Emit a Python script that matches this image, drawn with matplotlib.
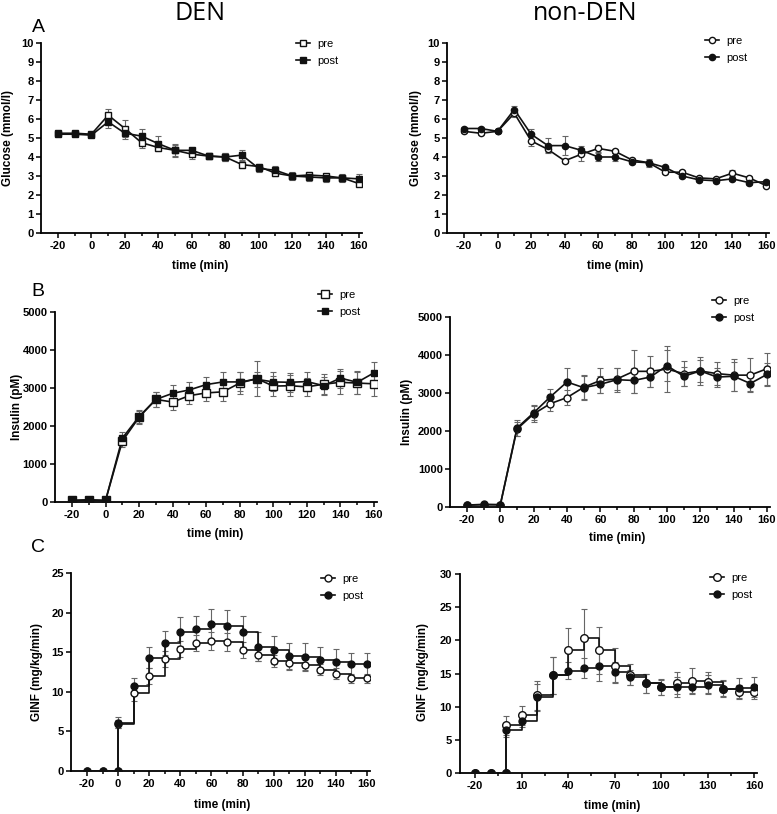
import numpy as np
import matplotlib
matplotlib.use('Agg')
import matplotlib.pyplot as plt
from matplotlib.lines import Line2D

plt.rcParams['font.family'] = ['Liberation Sans', 'DejaVu Sans']
plt.rcParams['axes.unicode_minus'] = False

# time points
time = [-20, -10, 0, 10, 20, 30, 40, 50, 60, 70, 80, 90, 100, 110, 120, 130, 140, 150, 160]
time_ginf = [-20, -10, 0, 0, 10, 20, 30, 40, 50, 60, 70, 80, 90, 100, 110, 120, 130, 140, 150, 160]

# Glucose (mmol/l)
glu_den_pre = [5.25, 5.25, 5.2, 6.2, 5.5, 4.75, 4.5, 4.35, 4.15, 4.05, 4.0, 3.6, 3.5, 3.15, 3.0, 3.05, 3.0, 2.9, 2.6]
glu_den_post = [5.2, 5.2, 5.15, 5.85, 5.25, 5.1, 4.7, 4.35, 4.35, 4.05, 4.0, 4.1, 3.4, 3.3, 3.0, 2.95, 2.9, 2.9, 2.85]
glu_den_pre_err = [0.1, 0.1, 0.1, 0.35, 0.45, 0.3, 0.15, 0.35, 0.25, 0.1, 0.2, 0.2, 0.15, 0.15, 0.15, 0.15, 0.1, 0.15, 0.1]
glu_den_post_err = [0.1, 0.1, 0.1, 0.3, 0.3, 0.37, 0.4, 0.3, 0.15, 0.1, 0.2, 0.25, 0.2, 0.25, 0.2, 0.2, 0.2, 0.2, 0.25]

glu_non_pre = [5.35, 5.25, 5.35, 6.3, 4.85, 4.4, 3.8, 4.15, 4.45, 4.3, 3.85, 3.7, 3.2, 3.2, 2.9, 2.85, 3.15, 2.9, 2.5]
glu_non_post = [5.5, 5.5, 5.35, 6.5, 5.2, 4.6, 4.6, 4.35, 4.0, 4.0, 3.75, 3.7, 3.45, 3.0, 2.8, 2.75, 2.85, 2.65, 2.7]
glu_non_pre_err = [0.1, 0.1, 0.1, 0.2, 0.25, 0.15, 0.1, 0.35, 0.2, 0.1, 0.1, 0.2, 0.1, 0.1, 0.1, 0.1, 0.15, 0.1, 0.1]
glu_non_post_err = [0.1, 0.1, 0.1, 0.2, 0.3, 0.4, 0.5, 0.25, 0.2, 0.2, 0.1, 0.15, 0.1, 0.1, 0.1, 0.1, 0.1, 0.1, 0.1]

# Insulin (pM)
ins_den_pre = [40, 50, 40, 1600, 2230, 2700, 2630, 2800, 2870, 2900, 3130, 3250, 3050, 3060, 3030, 3100, 3150, 3130, 3110]
ins_den_post = [40, 60, 40, 1680, 2250, 2700, 2860, 2950, 3090, 3160, 3160, 3230, 3160, 3150, 3170, 3060, 3260, 3150, 3400]
ins_den_pre_err = [20, 20, 20, 150, 170, 200, 200, 220, 200, 230, 300, 450, 270, 270, 230, 280, 300, 300, 320]
ins_den_post_err = [20, 20, 20, 160, 170, 200, 220, 200, 200, 250, 250, 200, 250, 250, 250, 230, 250, 300, 280]

ins_non_pre = [50, 60, 60, 2050, 2450, 2720, 2880, 3150, 3330, 3370, 3570, 3570, 3630, 3510, 3580, 3510, 3470, 3470, 3640]
ins_non_post = [50, 70, 60, 2080, 2480, 2900, 3290, 3140, 3230, 3350, 3330, 3420, 3720, 3440, 3580, 3420, 3440, 3250, 3490]
ins_non_pre_err = [20, 20, 20, 180, 200, 200, 200, 300, 320, 300, 570, 400, 600, 330, 370, 300, 420, 450, 420]
ins_non_post_err = [20, 20, 20, 200, 200, 200, 370, 330, 220, 320, 320, 250, 400, 250, 300, 250, 380, 200, 300]

# GINF (mg/kg/min)
ginf_den_pre = [0, 0, 0, 5.9, 9.8, 12.0, 14.1, 15.4, 16.2, 16.4, 16.3, 15.3, 14.7, 13.9, 13.6, 13.4, 12.8, 12.3, 11.7, 11.7]
ginf_den_post = [0, 0, 0, 6.1, 10.7, 14.3, 16.2, 17.6, 17.9, 18.6, 18.3, 17.6, 15.7, 15.3, 14.5, 14.4, 14.0, 13.8, 13.5, 13.5]
ginf_den_pre_err = [0, 0, 0, 0.5, 0.9, 1.0, 1.0, 1.0, 1.0, 1.1, 1.1, 1.0, 0.8, 0.8, 0.8, 0.8, 0.7, 0.7, 0.6, 0.6]
ginf_den_post_err = [0, 0, 0, 0.7, 1.0, 1.3, 1.5, 1.8, 1.7, 1.9, 2.0, 2.0, 1.8, 1.8, 1.6, 1.7, 1.6, 1.6, 1.4, 1.4]

ginf_non_pre = [0, 0, 0, 7.2, 8.7, 11.7, 14.7, 18.6, 20.4, 18.5, 16.2, 14.8, 13.5, 12.9, 13.6, 13.9, 13.7, 12.7, 12.2, 12.2]
ginf_non_post = [0, 0, 0, 6.5, 7.9, 11.4, 14.7, 15.4, 15.8, 16.1, 15.2, 14.4, 13.5, 12.9, 12.9, 13.0, 13.3, 12.7, 12.8, 12.9]
ginf_non_pre_err = [0, 0, 0, 1.4, 1.4, 2.2, 2.8, 3.2, 4.3, 3.5, 2.7, 1.6, 1.5, 1.1, 1.7, 2.0, 1.6, 1.3, 1.0, 1.0]
ginf_non_post_err = [0, 0, 0, 1.0, 1.0, 2.0, 2.8, 1.3, 1.5, 2.2, 1.5, 1.2, 1.5, 1.2, 1.5, 1.0, 1.4, 1.1, 1.5, 1.5]

W, H = 777, 814
fig = plt.figure(figsize=(W / 100, H / 100), dpi=100)


def make_ax(x_m20, x_160, y_top, y_bot):
    # axes rect from pixel positions of x=-20, x=160 and y-range ends
    s = (x_160 - x_m20) / 180.0
    left = x_m20 - 10 * s
    width = 192 * s
    ax = fig.add_axes([left / W, 1 - y_bot / H, width / W, (y_bot - y_top) / H])
    ax.set_xlim(-30, 162)
    for sp in ['top', 'right']:
        ax.spines[sp].set_visible(False)
    for sp in ['left', 'bottom']:
        ax.spines[sp].set_linewidth(1.3)
    ax.tick_params(width=1.1, length=3.5, labelsize=8, pad=2)
    ax.tick_params(which='minor', width=1.1, length=2.5)
    return ax


def style_ticks(ax):
    for lab in ax.get_xticklabels() + ax.get_yticklabels():
        lab.set_fontweight('bold')


def draw(ax, x, y, e, marker, filled, ms, steps=False):
    ax.errorbar(x, y, yerr=e, fmt='none', ecolor='#666666', elinewidth=0.8,
                capsize=2.3, capthick=0.8, zorder=2)
    ax.plot(x, y, color='#111111', lw=1.2, drawstyle='steps-post' if steps else 'default', zorder=3)
    ax.plot(x, y, linestyle='none', marker=marker, ms=ms, mec='#111111', mew=1.0,
            mfc='#111111' if filled else 'white', zorder=4)


def legend(x_px, y_px, marker, ms_pre, ms_post):
    h1 = Line2D([], [], color='#111111', lw=1.2, marker=marker, ms=ms_pre, mfc='white', mec='#111111')
    h2 = Line2D([], [], color='#111111', lw=1.2, marker=marker, ms=ms_post, mfc='#111111', mec='#111111')
    fig.legend([h1, h2], ['pre', 'post'], loc='upper left', bbox_to_anchor=(x_px / W, 1 - y_px / H),
               frameon=False, handlelength=1.3, handletextpad=0.6, labelspacing=0.6,
               prop={'size': 8}, borderaxespad=0, borderpad=0)


def xlabel(y_px, x_px):
    fig.text(x_px / W, 1 - y_px / H, 'time (min)', ha='center', va='center', fontsize=8.5, fontweight='bold')


def ylabel(text, x_px, y_px):
    fig.text(x_px / W, 1 - y_px / H, text, ha='center', va='center', rotation=90, fontsize=8.5, fontweight='bold')


def set_x(ax, major_step, minor_start):
    ax.set_xticks(range(-20, 161, major_step))
    ax.set_xticks(range(minor_start, 161, major_step), minor=True)


# ---- A: glucose ----
axA1 = make_ax(58, 359, 43, 233)
draw(axA1, time, glu_den_pre, glu_den_pre_err, 's', False, 4.5)
draw(axA1, time, glu_den_post, glu_den_post_err, 's', True, 4.2)
axA1.set_ylim(0, 10)
axA1.set_yticks(range(0, 11))
set_x(axA1, 20, -10)
style_ticks(axA1)
legend(296, 39, 's', 4.5, 4.2)
xlabel(266, 200)
ylabel('Glucose (mmol/l)', 8, 138)

axA2 = make_ax(464, 766, 43, 233)
draw(axA2, time, glu_non_pre, glu_non_pre_err, 'o', False, 4.5)
draw(axA2, time, glu_non_post, glu_non_post_err, 'o', True, 4.5)
axA2.set_ylim(0, 10)
axA2.set_yticks(range(0, 11))
set_x(axA2, 20, -10)
style_ticks(axA2)
legend(705, 36, 'o', 4.5, 4.5)
xlabel(266, 615)
ylabel('Glucose (mmol/l)', 416, 138)

# ---- B: insulin ----
axB1 = make_ax(72, 374, 312, 502)
draw(axB1, time, ins_den_pre, ins_den_pre_err, 's', False, 6)
draw(axB1, time, ins_den_post, ins_den_post_err, 's', True, 4.5)
axB1.set_ylim(0, 5000)
axB1.set_yticks(range(0, 5001, 1000))
set_x(axB1, 20, -10)
style_ticks(axB1)
legend(318, 290, 's', 6, 4.5)
xlabel(534, 215)
ylabel('Insulin (pM)', 17, 407)

axB2 = make_ax(467, 767, 317, 507)
draw(axB2, time, ins_non_pre, ins_non_pre_err, 'o', False, 5)
draw(axB2, time, ins_non_post, ins_non_post_err, 'o', True, 5)
axB2.set_ylim(0, 5000)
axB2.set_yticks(range(0, 5001, 1000))
set_x(axB2, 20, -10)
style_ticks(axB2)
legend(712, 296, 'o', 5, 5)
xlabel(538, 617)
ylabel('Insulin (pM)', 407, 412)

# ---- C: GINF ----
axC1 = make_ax(87, 367, 573, 771)
draw(axC1, time_ginf, ginf_den_pre, ginf_den_pre_err, 'o', False, 5, steps=True)
draw(axC1, time_ginf, ginf_den_post, ginf_den_post_err, 'o', True, 5, steps=True)
axC1.set_ylim(0, 25)
axC1.set_yticks(range(0, 26, 5))
set_x(axC1, 20, -10)
style_ticks(axC1)
legend(321, 574, 'o', 5, 5)
xlabel(805, 222)
ylabel('GINF (mg/kg/min)', 37, 672)

axC2 = make_ax(475, 754, 574, 773)
draw(axC2, time_ginf, ginf_non_pre, ginf_non_pre_err, 'o', False, 5.5, steps=True)
draw(axC2, time_ginf, ginf_non_post, ginf_non_post_err, 'o', True, 5, steps=True)
axC2.set_ylim(0, 30)
axC2.set_yticks(range(0, 31, 5))
set_x(axC2, 30, -5)
style_ticks(axC2)
legend(710, 573, 'o', 5.5, 5)
xlabel(806, 612)
ylabel('GINF (mg/kg/min)', 423, 672)

# titles and panel letters
fig.text(200 / W, 1 - 14 / H, 'DEN', ha='center', va='center', fontsize=18, family=['Open Sans', 'DejaVu Sans'])
fig.text(585 / W, 1 - 14 / H, 'non-DEN', ha='center', va='center', fontsize=18, family=['Open Sans', 'DejaVu Sans'])
for letter, y in [('A', 27), ('B', 291), ('C', 548)]:
    fig.text(38 / W, 1 - y / H, letter, ha='center', va='center', fontsize=14)

fig.savefig('out.png', dpi=100)
